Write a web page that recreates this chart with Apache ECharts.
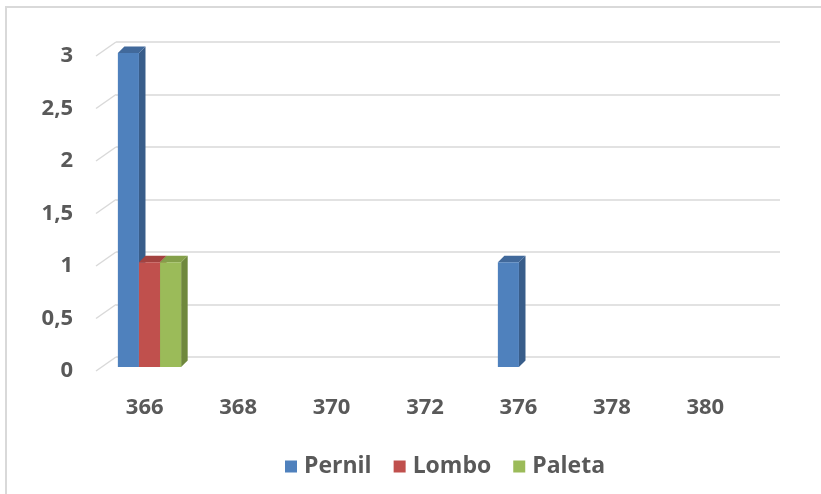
<!DOCTYPE html>
<html>
<head>
<meta charset="utf-8">
<script src="https://cdn.jsdelivr.net/npm/echarts@6/dist/echarts.min.js"></script>
<style>
  html, body { margin: 0; padding: 0; background: #ffffff; }
  #chart { width: 821px; height: 494px; }
</style>
</head>
<body>
<div id="chart"></div>
<script>
// Values per weight class
const categories = ['366', '368', '370', '372', '376', '378', '380'];
const pernil = [3, 0, 0, 0, 1, 0, 0];
const lombo = [1, 0, 0, 0, 0, 0, 0];
const paleta = [1, 0, 0, 0, 0, 0, 0];
const yTicks = [0, 0.5, 1, 1.5, 2, 2.5, 3];

const seriesNames = ['Pernil', 'Lombo', 'Paleta'];
const seriesValues = [pernil, lombo, paleta];
// front, side, top shades for each series
const shades = [
  ['#4f81bd', '#385d8a', '#41699b'],
  ['#c0504d', '#8c3a38', '#a3423f'],
  ['#9bbb59', '#6f883d', '#84a04a']
];

const textColor = '#595959';
const fontFamily = '"Open Sans", "Noto Sans", sans-serif';

const chart = echarts.init(document.getElementById('chart'), null, { renderer: 'canvas' });

function makeRender(k) {
  return function (params, api) {
    const xi = api.value(0);
    const v = api.value(1);
    if (!(v > 0)) return null;
    const base = api.coord([xi, 0]);
    const top = api.coord([xi, v]);
    const band = api.size([1, 0])[0];
    const bw = band * 0.222;
    const d = bw * 0.31;
    const x0 = base[0] - 1.5 * bw + k * bw;
    const x1 = x0 + bw;
    const c = shades[k];
    return {
      type: 'group',
      children: [
        {
          type: 'polygon',
          shape: { points: [[x1, top[1]], [x1 + d, top[1] - d], [x1 + d, base[1] - d], [x1, base[1]]] },
          style: { fill: c[1] }
        },
        {
          type: 'polygon',
          shape: { points: [[x0, top[1]], [x0 + d, top[1] - d], [x1 + d, top[1] - d], [x1, top[1]]] },
          style: { fill: c[2] }
        },
        {
          type: 'rect',
          shape: { x: x0, y: top[1], width: bw, height: base[1] - top[1] },
          style: { fill: c[0] }
        }
      ]
    };
  };
}

const series = seriesNames.map((name, k) => ({
  name: name,
  type: 'custom',
  xAxisIndex: 2,
  yAxisIndex: 2,
  itemStyle: { color: shades[k][0] },
  renderItem: makeRender(k),
  data: seriesValues[k].map((v, i) => [i, v]),
  z: 3 + k
}));

const option = {
  animation: false,
  backgroundColor: '#ffffff',
  grid: [
    // back wall
    { left: 116, right: 41, top: 42, bottom: 137 },
    // front edge carrying the labels
    { left: 98, right: 69, top: 56, bottom: 123 },
    // columns
    { left: 102, right: 54, top: 53, bottom: 127 }
  ],
  xAxis: [
    { gridIndex: 0, type: 'category', data: categories, show: false },
    {
      gridIndex: 1, type: 'category', data: categories,
      axisLine: { show: false }, axisTick: { show: false },
      axisLabel: { color: textColor, fontSize: 22, fontWeight: 'bold', fontFamily: fontFamily, margin: 26 }
    },
    { gridIndex: 2, type: 'category', data: categories, show: false }
  ],
  yAxis: [
    {
      gridIndex: 0, type: 'value', min: 0, max: 3, interval: 0.5,
      axisLine: { show: false }, axisTick: { show: false }, axisLabel: { show: false },
      splitLine: { lineStyle: { color: '#d9d9d9', width: 1.5 } }
    },
    {
      gridIndex: 1, type: 'value', min: 0, max: 3, interval: 0.5,
      axisLine: { show: false }, axisTick: { show: false },
      splitLine: { show: false },
      axisLabel: {
        color: textColor, fontSize: 22, fontWeight: 'bold', fontFamily: fontFamily, margin: 25,
        formatter: v => String(v).replace('.', ',')
      }
    },
    { gridIndex: 2, type: 'value', min: 0, max: 3, show: false, splitLine: { show: false } }
  ],
  legend: {
    data: seriesNames,
    left: 280,
    top: 450,
    itemWidth: 12,
    itemHeight: 12,
    itemGap: 22,
    icon: 'rect',
    textStyle: { color: textColor, fontSize: 23, fontWeight: 'bold', fontFamily: fontFamily, padding: [0, 0, 0, 2] }
  },
  series: series
};

chart.setOption(option);

// Side-wall grid lines joining the front edge to the back wall, plus the outer frame
const wallLines = yTicks.map(t => {
  const back = chart.convertToPixel({ gridIndex: 0 }, [0, t]);
  const front = chart.convertToPixel({ gridIndex: 1 }, [0, t]);
  return {
    type: 'line',
    shape: { x1: 96, y1: front[1], x2: 116, y2: back[1] },
    style: { stroke: '#d9d9d9', lineWidth: 1.5 },
    z: 1
  };
});

chart.setOption({
  graphic: [
    {
      type: 'rect',
      shape: { x: 6, y: 7, width: 900, height: 600 },
      style: { fill: null, stroke: '#d9d9d9', lineWidth: 2 },
      z: 0
    }
  ].concat(wallLines)
});
</script>
</body>
</html>
